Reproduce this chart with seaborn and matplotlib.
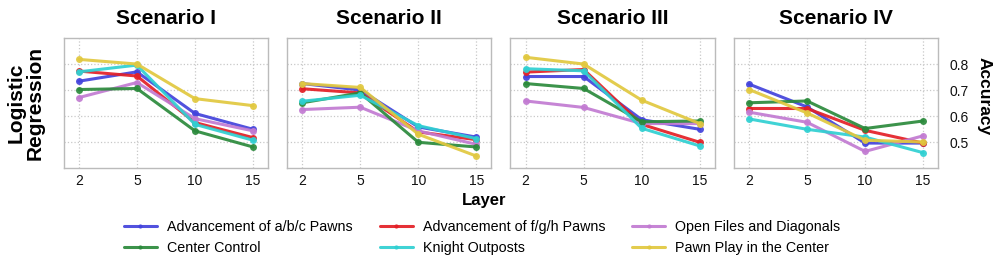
import seaborn as sns
import numpy as np
import pandas as pd
import matplotlib.pyplot as plt

layers = ['2', '5', '10', '15']
scenarios = ['Scenario I', 'Scenario II', 'Scenario III', 'Scenario IV']
features = ['Advancement of a/b/c Pawns', 'Advancement of f/g/h Pawns',
            'Open Files and Diagonals', 'Center Control',
            'Knight Outposts', 'Pawn Play in the Center']
colors = ['#4343dc', '#e31f26', '#c27bd2', '#2b8a3c', '#2fd0d2', '#e1c83f']

# accuracy per feature, one list of 4 layers for each scenario
abc_pawns = [[0.734, 0.770, 0.610, 0.549],
             [0.725, 0.700, 0.558, 0.519],
             [0.752, 0.752, 0.586, 0.549],
             [0.723, 0.635, 0.496, 0.496]]
fgh_pawns = [[0.773, 0.754, 0.575, 0.517],
             [0.705, 0.689, 0.539, 0.509],
             [0.769, 0.779, 0.568, 0.499],
             [0.629, 0.629, 0.545, 0.496]]
open_files = [[0.671, 0.729, 0.590, 0.543],
              [0.625, 0.634, 0.543, 0.491],
              [0.658, 0.633, 0.571, 0.571],
              [0.615, 0.576, 0.464, 0.524]]
center_control = [[0.702, 0.706, 0.543, 0.481],
                  [0.651, 0.689, 0.499, 0.481],
                  [0.725, 0.706, 0.578, 0.581],
                  [0.651, 0.658, 0.552, 0.581]]
knight_outposts = [[0.770, 0.796, 0.568, 0.507],
                   [0.657, 0.680, 0.563, 0.513],
                   [0.782, 0.774, 0.553, 0.485],
                   [0.589, 0.549, 0.519, 0.459]]
pawn_center = [[0.818, 0.800, 0.667, 0.640],
               [0.725, 0.710, 0.530, 0.446],
               [0.826, 0.800, 0.661, 0.571],
               [0.702, 0.612, 0.507, 0.500]]

all_vals = [abc_pawns, fgh_pawns, open_files, center_control, knight_outposts, pawn_center]

rows = []
for f, vals in zip(features, all_vals):
    for s, sc in enumerate(scenarios):
        for l, layer in enumerate(layers):
            rows.append({'Scenario': sc, 'Feature': f, 'Layer': layer, 'Accuracy': vals[s][l]})
df = pd.DataFrame(rows)

sns.set_theme(style='whitegrid')
plt.rcParams['font.family'] = ['Liberation Sans', 'DejaVu Sans']

fig, axes = plt.subplots(1, 4, figsize=(9.96, 2.68), dpi=100, sharey=True)
fig.subplots_adjust(left=0.064, right=0.942, top=0.858, bottom=0.373, wspace=0.093)
palette = dict(zip(features, colors))

for i, (ax, sc) in enumerate(zip(axes, scenarios)):
    sub = df[df['Scenario'] == sc]
    sns.lineplot(data=sub, x='Layer', y='Accuracy', hue='Feature', hue_order=features,
                 palette=palette, marker='o', markersize=5, markeredgewidth=0,
                 linewidth=2.2, alpha=0.92, sort=False, ax=ax, legend=(i == 0))
    ax.set_title(sc, fontsize=15, fontweight='bold', pad=10, color='black')
    ax.set_xlim(-0.26, 3.26)
    ax.set_ylim(0.4, 0.9)
    ax.set_yticks([0.5, 0.6, 0.7, 0.8])
    ax.set_xlabel('')
    ax.set_ylabel('')
    ax.grid(True, linestyle=':', color='#c8c8c8', linewidth=0.9)
    ax.tick_params(axis='both', labelsize=10, length=0, pad=4, labelcolor='#111111')
    for sp in ax.spines.values():
        sp.set_color('#bbbbbb')
        sp.set_linewidth(1.0)
    if i < 3:
        ax.tick_params(axis='y', labelleft=False, labelright=False)

axes[3].yaxis.set_tick_params(labelright=True, labelleft=False, pad=8)
axes[0].set_ylabel('Logistic\nRegression', fontsize=15, fontweight='bold', labelpad=14,
                   linespacing=0.95, color='black')

fig.text(984 / 996, 1 - 96 / 268, 'Accuracy', rotation=270, ha='center', va='center',
         fontsize=12.5, fontweight='bold', color='black')
fig.text(0.486, 0.25, 'Layer', ha='center', va='center', fontsize=12, fontweight='bold',
         color='black')

handles, labels = axes[0].get_legend_handles_labels()
axes[0].get_legend().remove()
order = [0, 3, 1, 4, 2, 5]
leg = fig.legend([handles[k] for k in order], [labels[k] for k in order],
                 loc='center', bbox_to_anchor=(0.484, 0.113), ncol=3,
                 frameon=False, fontsize=10.3, handlelength=2.3, markerscale=0.6,
                 columnspacing=1.9, labelspacing=0.5, handletextpad=0.7)
for t in leg.get_texts():
    t.set_color('black')

fig.savefig('out.png', dpi=100)
